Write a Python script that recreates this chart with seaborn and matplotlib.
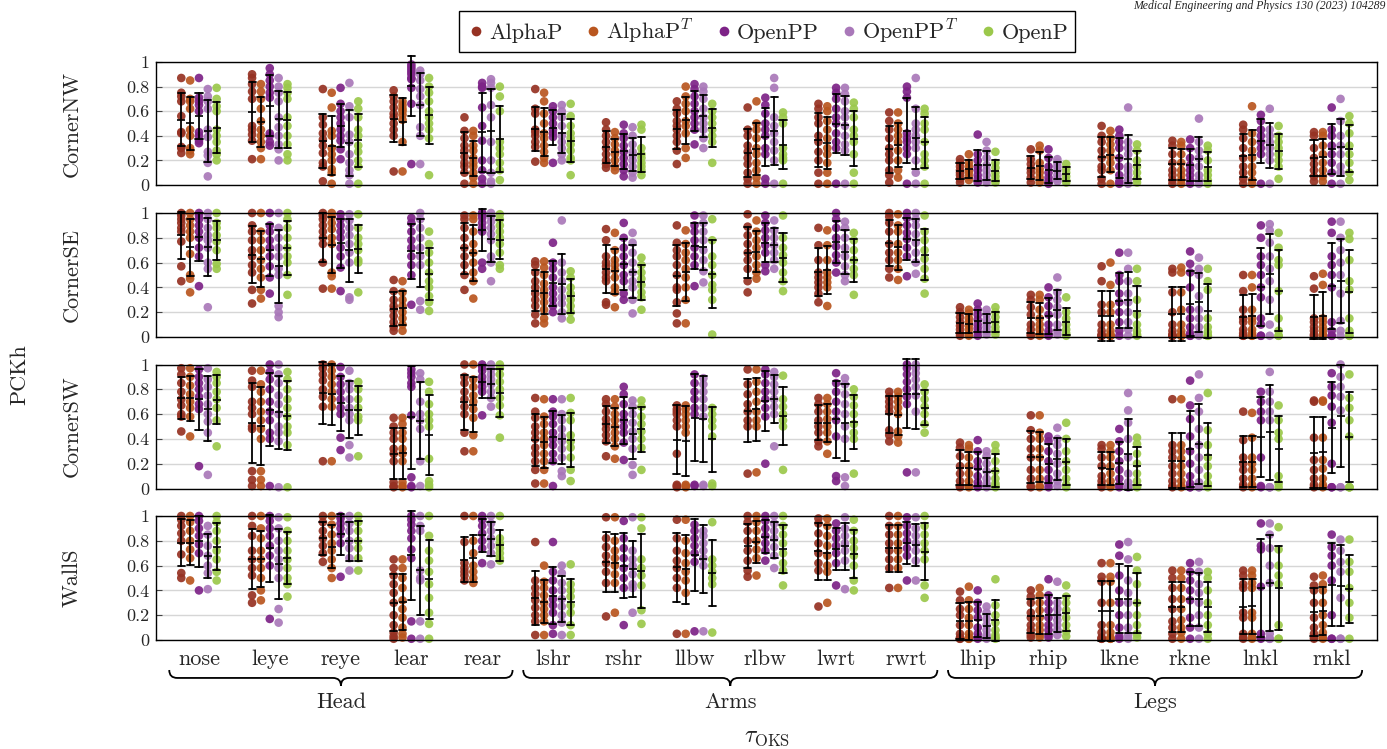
import matplotlib
matplotlib.use("Agg")
import numpy as np
import pandas as pd
import matplotlib.pyplot as plt
import matplotlib.transforms as mtransforms
from matplotlib.lines import Line2D
from matplotlib.path import Path
from matplotlib.patches import PathPatch
import seaborn as sns

# ---------------------------------------------------------------- categories
KEYPOINTS = ["nose", "leye", "reye", "lear", "rear", "lshr", "rshr", "llbw",
             "rlbw", "lwrt", "rwrt", "lhip", "rhip", "lkne", "rkne", "lnkl", "rnkl"]
GROUPS = [("Head", 0, 4), ("Arms", 5, 10), ("Legs", 11, 16)]
METHODS = ["AlphaP", "AlphaP$^T$", "OpenPP", "OpenPP$^T$", "OpenP"]
COLORS = ["#963223", "#b9561f", "#7d2387", "#a978b9", "#9bc84b"]
SCENES = ["CornerNW", "CornerSE", "CornerSW", "WallS"]
Y_TICKS = [0, 0.2, 0.4, 0.6, 0.8, 1]
Y_TICK_LABELS = ["0", "0.2", "0.4", "0.6", "0.8", "1"]

# ---------------------------------------------------------------- PCKh per sequence, one list per keypoint
NW_ALPHAP = [
    [0.87, 0.75, 0.72, 0.68, 0.56, 0.43, 0.42, 0.31, 0.30, 0.26],
    [0.90, 0.87, 0.82, 0.76, 0.70, 0.48, 0.45, 0.41, 0.36, 0.21],
    [0.78, 0.55, 0.49, 0.42, 0.37, 0.32, 0.26, 0.18, 0.15, 0.03],
    [0.77, 0.72, 0.68, 0.63, 0.58, 0.55, 0.50, 0.45, 0.40, 0.11],
    [0.55, 0.44, 0.38, 0.32, 0.28, 0.23, 0.18, 0.15, 0.10, 0.01],
    [0.78, 0.62, 0.58, 0.45, 0.43, 0.40, 0.35, 0.31, 0.19],
    [0.51, 0.45, 0.40, 0.35, 0.30, 0.25, 0.20, 0.17, 0.14],
    [0.68, 0.62, 0.58, 0.52, 0.48, 0.45, 0.40, 0.35, 0.28, 0.17],
    [0.63, 0.45, 0.40, 0.32, 0.27, 0.22, 0.17, 0.10, 0.05, 0.01],
    [0.66, 0.62, 0.55, 0.50, 0.40, 0.35, 0.27, 0.20, 0.10, 0.01],
    [0.59, 0.52, 0.45, 0.38, 0.30, 0.25, 0.20, 0.12, 0.08, 0.02],
    [0.21, 0.18, 0.15, 0.12, 0.10, 0.08, 0.05, 0.02],
    [0.29, 0.21, 0.17, 0.13, 0.10, 0.06, 0.02],
    [0.48, 0.40, 0.35, 0.28, 0.22, 0.15, 0.12, 0.05, 0.01],
    [0.36, 0.32, 0.25, 0.18, 0.12, 0.08, 0.04, 0.01],
    [0.49, 0.45, 0.38, 0.30, 0.22, 0.15, 0.10, 0.05, 0.01],
    [0.43, 0.40, 0.30, 0.22, 0.17, 0.12, 0.07, 0.03],
]
NW_ALPHAPT = [
    [0.85, 0.70, 0.68, 0.62, 0.45, 0.40, 0.30, 0.28, 0.25],
    [0.82, 0.76, 0.70, 0.62, 0.52, 0.45, 0.40, 0.35, 0.30, 0.21],
    [0.75, 0.63, 0.44, 0.40, 0.30, 0.25, 0.20, 0.13, 0.10, 0.01],
    [0.68, 0.65, 0.62, 0.60, 0.57, 0.53, 0.35, 0.11],
    [0.44, 0.40, 0.32, 0.28, 0.22, 0.18, 0.15, 0.10, 0.06, 0.01],
    [0.75, 0.68, 0.58, 0.50, 0.42, 0.38, 0.32, 0.27, 0.22, 0.18],
    [0.43, 0.38, 0.33, 0.28, 0.25, 0.20, 0.15, 0.12],
    [0.80, 0.72, 0.66, 0.60, 0.52, 0.48, 0.42, 0.30, 0.22],
    [0.68, 0.50, 0.45, 0.38, 0.30, 0.25, 0.18, 0.12, 0.06, 0.01],
    [0.64, 0.60, 0.52, 0.45, 0.38, 0.30, 0.25, 0.18, 0.10, 0.01],
    [0.59, 0.50, 0.45, 0.40, 0.35, 0.28, 0.20, 0.12, 0.06],
    [0.25, 0.18, 0.15, 0.12, 0.10, 0.07, 0.04],
    [0.32, 0.28, 0.18, 0.13, 0.10, 0.06, 0.02],
    [0.44, 0.38, 0.33, 0.28, 0.23, 0.18, 0.12, 0.01],
    [0.35, 0.32, 0.25, 0.18, 0.12, 0.08, 0.04, 0.01],
    [0.64, 0.42, 0.35, 0.28, 0.22, 0.15, 0.10, 0.04, 0.01],
    [0.43, 0.40, 0.32, 0.25, 0.18, 0.12, 0.07, 0.03],
]
NW_OPENPP = [
    [0.87, 0.71, 0.68, 0.65, 0.60, 0.43, 0.40, 0.36, 0.34],
    [0.95, 0.90, 0.85, 0.80, 0.75, 0.71, 0.42, 0.40, 0.35, 0.32],
    [0.79, 0.66, 0.60, 0.55, 0.50, 0.45, 0.40, 0.36, 0.29, 0.21],
    [0.98, 0.96, 0.94, 0.92, 0.90, 0.87, 0.86, 0.79, 0.66, 0.17],
    [0.83, 0.80, 0.79, 0.63, 0.48, 0.36, 0.20, 0.12, 0.05, 0.01],
    [0.64, 0.60, 0.55, 0.50, 0.45, 0.42, 0.39, 0.18],
    [0.49, 0.42, 0.38, 0.32, 0.27, 0.22, 0.17, 0.12, 0.07],
    [0.82, 0.78, 0.72, 0.66, 0.60, 0.55, 0.50, 0.45, 0.33],
    [0.71, 0.65, 0.58, 0.50, 0.45, 0.40, 0.30, 0.25, 0.05, 0.01],
    [0.79, 0.75, 0.70, 0.62, 0.55, 0.50, 0.42, 0.35, 0.30, 0.01],
    [0.80, 0.76, 0.71, 0.42, 0.38, 0.35, 0.30, 0.25, 0.01],
    [0.41, 0.25, 0.20, 0.15, 0.12, 0.08, 0.05, 0.02],
    [0.29, 0.22, 0.15, 0.10, 0.06, 0.03, 0.01],
    [0.45, 0.40, 0.35, 0.30, 0.22, 0.15, 0.08, 0.03, 0.01],
    [0.37, 0.30, 0.22, 0.16, 0.12, 0.08, 0.04, 0.01],
    [0.57, 0.52, 0.45, 0.40, 0.35, 0.30, 0.25, 0.01],
    [0.63, 0.45, 0.40, 0.32, 0.25, 0.18, 0.10, 0.01],
]
NW_OPENPPT = [
    [0.78, 0.72, 0.68, 0.62, 0.45, 0.39, 0.27, 0.24, 0.18, 0.07],
    [0.87, 0.80, 0.75, 0.68, 0.55, 0.47, 0.40, 0.33, 0.29, 0.20],
    [0.83, 0.64, 0.55, 0.41, 0.35, 0.25, 0.18, 0.12, 0.08, 0.01],
    [0.93, 0.90, 0.85, 0.78, 0.72, 0.65, 0.47, 0.40, 0.17],
    [0.86, 0.83, 0.79, 0.65, 0.55, 0.35, 0.20, 0.10, 0.03, 0.01],
    [0.65, 0.60, 0.55, 0.48, 0.40, 0.35, 0.30, 0.25, 0.20],
    [0.47, 0.40, 0.33, 0.27, 0.24, 0.20, 0.15, 0.10, 0.06],
    [0.80, 0.76, 0.70, 0.62, 0.55, 0.50, 0.45, 0.38, 0.30],
    [0.87, 0.79, 0.55, 0.48, 0.42, 0.35, 0.28, 0.20, 0.01],
    [0.79, 0.74, 0.68, 0.60, 0.55, 0.48, 0.40, 0.33, 0.28, 0.01],
    [0.87, 0.62, 0.50, 0.45, 0.40, 0.35, 0.30, 0.20, 0.10, 0.01],
    [0.35, 0.28, 0.22, 0.16, 0.12, 0.08, 0.04, 0.02],
    [0.21, 0.18, 0.15, 0.12, 0.08, 0.05, 0.03],
    [0.63, 0.35, 0.30, 0.25, 0.15, 0.12, 0.08, 0.04, 0.01],
    [0.54, 0.35, 0.28, 0.22, 0.15, 0.08, 0.04, 0.01],
    [0.62, 0.45, 0.40, 0.35, 0.30, 0.25, 0.20, 0.01],
    [0.70, 0.52, 0.40, 0.32, 0.25, 0.15, 0.10, 0.01],
]
NW_OPENP = [
    [0.79, 0.70, 0.64, 0.60, 0.45, 0.40, 0.35, 0.28, 0.25, 0.20],
    [0.82, 0.79, 0.75, 0.70, 0.55, 0.48, 0.40, 0.33, 0.25, 0.20],
    [0.68, 0.62, 0.55, 0.45, 0.40, 0.32, 0.27, 0.20, 0.15, 0.01],
    [0.87, 0.80, 0.75, 0.68, 0.60, 0.55, 0.50, 0.45, 0.38, 0.08],
    [0.80, 0.72, 0.60, 0.35, 0.30, 0.25, 0.18, 0.12, 0.04],
    [0.66, 0.56, 0.48, 0.42, 0.38, 0.33, 0.28, 0.22, 0.20, 0.08],
    [0.49, 0.45, 0.30, 0.25, 0.22, 0.18, 0.15, 0.12, 0.08],
    [0.66, 0.60, 0.55, 0.50, 0.45, 0.40, 0.35, 0.18],
    [0.59, 0.55, 0.50, 0.30, 0.25, 0.22, 0.20, 0.01],
    [0.67, 0.62, 0.55, 0.45, 0.40, 0.35, 0.25, 0.10, 0.01],
    [0.62, 0.58, 0.50, 0.45, 0.35, 0.25, 0.20, 0.15, 0.01],
    [0.27, 0.18, 0.14, 0.10, 0.07, 0.04, 0.02],
    [0.17, 0.13, 0.10, 0.07, 0.04, 0.02],
    [0.33, 0.28, 0.20, 0.15, 0.10, 0.05, 0.02],
    [0.32, 0.28, 0.20, 0.12, 0.08, 0.04, 0.01],
    [0.48, 0.40, 0.35, 0.30, 0.25, 0.20, 0.15, 0.05],
    [0.56, 0.50, 0.42, 0.32, 0.25, 0.18, 0.10, 0.04],
]

SE_ALPHAP = [
    [1.00, 0.98, 0.95, 0.92, 0.88, 0.85, 0.77, 0.57, 0.45],
    [1.00, 0.90, 0.85, 0.78, 0.70, 0.65, 0.58, 0.52, 0.38, 0.27],
    [1.00, 0.98, 0.95, 0.90, 0.85, 0.80, 0.75, 0.60, 0.39],
    [0.46, 0.37, 0.30, 0.25, 0.22, 0.17, 0.12, 0.08, 0.05],
    [0.98, 0.95, 0.88, 0.80, 0.72, 0.65, 0.58, 0.50, 0.38],
    [0.61, 0.58, 0.52, 0.45, 0.40, 0.35, 0.30, 0.25, 0.18, 0.11],
    [0.87, 0.78, 0.65, 0.60, 0.57, 0.52, 0.48, 0.45, 0.28, 0.26],
    [0.90, 0.76, 0.70, 0.65, 0.58, 0.50, 0.40, 0.38, 0.28, 0.19, 0.11],
    [0.99, 0.89, 0.82, 0.75, 0.68, 0.62, 0.55, 0.45, 0.36],
    [0.88, 0.74, 0.62, 0.52, 0.48, 0.44, 0.40, 0.35, 0.28],
    [1.00, 0.97, 0.92, 0.85, 0.75, 0.68, 0.62, 0.55, 0.48],
    [0.24, 0.20, 0.16, 0.12, 0.09, 0.06, 0.03, 0.01],
    [0.34, 0.30, 0.24, 0.18, 0.10, 0.06, 0.02, 0.01],
    [0.57, 0.45, 0.26, 0.20, 0.10, 0.05, 0.02, 0.01, 0.01, 0.01],
    [0.55, 0.52, 0.36, 0.20, 0.10, 0.05, 0.02, 0.01, 0.01, 0.01],
    [0.50, 0.37, 0.22, 0.15, 0.12, 0.06, 0.03, 0.01, 0.01],
    [0.49, 0.39, 0.15, 0.12, 0.08, 0.05, 0.02, 0.01],
]
SE_ALPHAPT = [
    [1.00, 0.95, 0.90, 0.85, 0.80, 0.67, 0.50, 0.47, 0.36],
    [1.00, 0.85, 0.78, 0.70, 0.62, 0.55, 0.48, 0.38, 0.31],
    [1.00, 0.97, 0.92, 0.87, 0.80, 0.75, 0.52, 0.49, 0.39],
    [0.45, 0.36, 0.30, 0.25, 0.20, 0.15, 0.10, 0.05],
    [0.98, 0.95, 0.85, 0.75, 0.68, 0.60, 0.52, 0.45, 0.31],
    [0.61, 0.56, 0.50, 0.43, 0.38, 0.33, 0.28, 0.22, 0.15, 0.11],
    [0.84, 0.70, 0.62, 0.58, 0.54, 0.48, 0.40, 0.36, 0.24],
    [0.86, 0.75, 0.68, 0.62, 0.55, 0.48, 0.40, 0.30, 0.11],
    [0.94, 0.85, 0.78, 0.72, 0.65, 0.58, 0.52, 0.47],
    [0.86, 0.74, 0.62, 0.52, 0.48, 0.44, 0.40, 0.25],
    [0.99, 0.90, 0.85, 0.75, 0.68, 0.62, 0.55, 0.46],
    [0.22, 0.19, 0.15, 0.12, 0.09, 0.06, 0.02, 0.01],
    [0.34, 0.30, 0.22, 0.15, 0.10, 0.06, 0.02, 0.01],
    [0.60, 0.42, 0.26, 0.20, 0.10, 0.05, 0.02, 0.01, 0.01, 0.01],
    [0.56, 0.52, 0.36, 0.22, 0.10, 0.05, 0.02, 0.01, 0.01, 0.01],
    [0.50, 0.40, 0.22, 0.15, 0.12, 0.06, 0.03, 0.01, 0.01],
    [0.51, 0.42, 0.15, 0.12, 0.08, 0.05, 0.02, 0.01],
]
SE_OPENPP = [
    [1.00, 0.98, 0.95, 0.90, 0.85, 0.80, 0.72, 0.65, 0.41],
    [1.00, 0.90, 0.85, 0.78, 0.72, 0.65, 0.57, 0.48, 0.35],
    [0.99, 0.95, 0.90, 0.85, 0.80, 0.72, 0.65, 0.56, 0.37],
    [0.96, 0.92, 0.85, 0.78, 0.72, 0.65, 0.58, 0.50, 0.26],
    [1.00, 1.00, 0.98, 0.96, 0.92, 0.88, 0.85, 0.60, 0.55],
    [0.76, 0.60, 0.55, 0.48, 0.40, 0.35, 0.30, 0.25, 0.20],
    [0.92, 0.80, 0.72, 0.65, 0.58, 0.50, 0.45, 0.35, 0.30],
    [0.98, 0.90, 0.85, 0.78, 0.72, 0.65, 0.58, 0.41],
    [0.98, 0.92, 0.86, 0.80, 0.74, 0.68, 0.58, 0.53],
    [1.00, 0.95, 0.88, 0.80, 0.73, 0.66, 0.60, 0.52],
    [1.00, 0.96, 0.90, 0.84, 0.79, 0.72, 0.65, 0.49],
    [0.27, 0.22, 0.18, 0.14, 0.10, 0.07, 0.04, 0.01],
    [0.40, 0.32, 0.25, 0.18, 0.10, 0.05, 0.02, 0.01],
    [0.68, 0.50, 0.45, 0.35, 0.28, 0.20, 0.12, 0.05, 0.01],
    [0.69, 0.59, 0.52, 0.40, 0.22, 0.15, 0.08, 0.03, 0.01, 0.01],
    [0.90, 0.80, 0.65, 0.58, 0.50, 0.40, 0.32, 0.15, 0.10, 0.01, 0.01],
    [0.93, 0.84, 0.65, 0.58, 0.50, 0.40, 0.12, 0.05, 0.01, 0.01],
]
SE_OPENPPT = [
    [1.00, 0.95, 0.88, 0.82, 0.78, 0.72, 0.60, 0.55, 0.24],
    [1.00, 0.88, 0.80, 0.72, 0.65, 0.55, 0.50, 0.25, 0.20, 0.16],
    [0.99, 0.94, 0.88, 0.82, 0.75, 0.68, 0.60, 0.32, 0.30],
    [1.00, 0.95, 0.88, 0.80, 0.72, 0.65, 0.58, 0.29, 0.22],
    [1.00, 0.97, 0.93, 0.88, 0.83, 0.78, 0.65, 0.60, 0.45],
    [0.94, 0.60, 0.52, 0.45, 0.38, 0.32, 0.27, 0.20, 0.15],
    [0.84, 0.76, 0.68, 0.60, 0.52, 0.45, 0.40, 0.30, 0.19],
    [0.98, 0.92, 0.85, 0.78, 0.70, 0.62, 0.53, 0.44],
    [0.94, 0.86, 0.80, 0.74, 0.68, 0.62, 0.55],
    [0.93, 0.88, 0.80, 0.72, 0.65, 0.57, 0.50, 0.45],
    [1.00, 0.95, 0.90, 0.83, 0.76, 0.68, 0.60, 0.51],
    [0.22, 0.18, 0.14, 0.11, 0.08, 0.05, 0.02],
    [0.48, 0.36, 0.30, 0.24, 0.18, 0.10, 0.05, 0.02],
    [0.68, 0.55, 0.45, 0.35, 0.28, 0.20, 0.12, 0.06, 0.01],
    [0.64, 0.55, 0.50, 0.33, 0.22, 0.15, 0.08, 0.03, 0.01],
    [0.91, 0.86, 0.76, 0.65, 0.55, 0.45, 0.30, 0.10, 0.01],
    [0.93, 0.80, 0.70, 0.60, 0.50, 0.35, 0.13, 0.05, 0.01],
]
SE_OPENP = [
    [1.00, 0.92, 0.88, 0.82, 0.77, 0.70, 0.59, 0.55],
    [1.00, 0.95, 0.88, 0.80, 0.72, 0.65, 0.60, 0.50, 0.34],
    [0.99, 0.88, 0.80, 0.75, 0.70, 0.62, 0.60, 0.36],
    [0.85, 0.75, 0.68, 0.60, 0.52, 0.45, 0.40, 0.33, 0.28, 0.21],
    [0.99, 0.95, 0.90, 0.85, 0.80, 0.75, 0.68, 0.58, 0.55],
    [0.53, 0.48, 0.40, 0.35, 0.30, 0.25, 0.20, 0.14],
    [0.64, 0.58, 0.52, 0.47, 0.42, 0.36, 0.32, 0.22],
    [0.95, 0.78, 0.65, 0.58, 0.50, 0.42, 0.38, 0.30, 0.02],
    [0.98, 0.80, 0.72, 0.66, 0.60, 0.52, 0.45, 0.37],
    [0.84, 0.78, 0.70, 0.62, 0.55, 0.50, 0.34],
    [0.98, 0.85, 0.78, 0.70, 0.63, 0.55, 0.47, 0.35],
    [0.24, 0.20, 0.16, 0.12, 0.08, 0.05, 0.02],
    [0.32, 0.20, 0.15, 0.10, 0.06, 0.03, 0.01],
    [0.55, 0.45, 0.30, 0.18, 0.10, 0.05, 0.02, 0.01],
    [0.55, 0.45, 0.38, 0.15, 0.08, 0.04, 0.01, 0.01],
    [0.84, 0.72, 0.62, 0.58, 0.37, 0.15, 0.05, 0.01, 0.01],
    [0.84, 0.79, 0.62, 0.45, 0.38, 0.15, 0.05, 0.01, 0.01],
]

SW_ALPHAP = [
    [0.97, 0.92, 0.85, 0.78, 0.72, 0.67, 0.60, 0.58, 0.46],
    [0.95, 0.87, 0.82, 0.70, 0.65, 0.60, 0.50, 0.48, 0.14, 0.07, 0.02],
    [1.00, 0.97, 0.92, 0.87, 0.80, 0.74, 0.66, 0.22],
    [0.57, 0.50, 0.45, 0.40, 0.32, 0.28, 0.22, 0.05, 0.02, 0.01],
    [1.00, 0.90, 0.85, 0.78, 0.72, 0.66, 0.60, 0.45, 0.30],
    [0.73, 0.62, 0.57, 0.50, 0.45, 0.40, 0.33, 0.28, 0.22, 0.15, 0.04],
    [0.72, 0.68, 0.62, 0.56, 0.52, 0.48, 0.43, 0.38, 0.26],
    [0.67, 0.64, 0.62, 0.60, 0.55, 0.50, 0.28, 0.03, 0.02, 0.01],
    [0.96, 0.84, 0.76, 0.68, 0.62, 0.55, 0.50, 0.12],
    [0.73, 0.68, 0.62, 0.55, 0.50, 0.45, 0.38, 0.34],
    [0.78, 0.74, 0.70, 0.66, 0.62, 0.47, 0.43, 0.38],
    [0.37, 0.33, 0.26, 0.18, 0.12, 0.06, 0.02, 0.01],
    [0.59, 0.47, 0.40, 0.32, 0.25, 0.15, 0.08, 0.02, 0.01],
    [0.35, 0.32, 0.25, 0.18, 0.10, 0.06, 0.03, 0.01],
    [0.72, 0.35, 0.30, 0.25, 0.18, 0.12, 0.06, 0.02, 0.01],
    [0.62, 0.39, 0.25, 0.20, 0.15, 0.08, 0.03, 0.01],
    [0.71, 0.70, 0.41, 0.23, 0.15, 0.08, 0.03, 0.01],
]
SW_ALPHAPT = [
    [0.97, 0.90, 0.83, 0.76, 0.70, 0.65, 0.58, 0.42],
    [0.95, 0.84, 0.78, 0.70, 0.62, 0.55, 0.48, 0.40, 0.14, 0.07, 0.02],
    [1.00, 0.95, 0.90, 0.84, 0.78, 0.72, 0.66, 0.22],
    [0.57, 0.52, 0.45, 0.40, 0.32, 0.28, 0.22, 0.05, 0.02, 0.01],
    [1.00, 0.88, 0.82, 0.75, 0.70, 0.64, 0.57, 0.43, 0.30],
    [0.72, 0.58, 0.52, 0.45, 0.40, 0.35, 0.28, 0.22, 0.15, 0.04],
    [0.72, 0.66, 0.60, 0.55, 0.50, 0.45, 0.40, 0.34, 0.24],
    [0.67, 0.64, 0.60, 0.55, 0.50, 0.45, 0.03, 0.02, 0.01],
    [0.96, 0.86, 0.78, 0.70, 0.62, 0.55, 0.50, 0.13],
    [0.73, 0.68, 0.62, 0.56, 0.50, 0.45, 0.38, 0.28],
    [0.78, 0.74, 0.70, 0.65, 0.60, 0.46, 0.42, 0.37],
    [0.35, 0.32, 0.25, 0.18, 0.12, 0.06, 0.02, 0.01],
    [0.59, 0.45, 0.40, 0.32, 0.25, 0.15, 0.08, 0.02, 0.01],
    [0.35, 0.30, 0.25, 0.18, 0.12, 0.06, 0.02, 0.01],
    [0.72, 0.35, 0.30, 0.24, 0.18, 0.12, 0.06, 0.02, 0.01],
    [0.61, 0.41, 0.25, 0.20, 0.15, 0.08, 0.03, 0.01],
    [0.71, 0.70, 0.41, 0.23, 0.16, 0.08, 0.03, 0.01],
]
SW_OPENPP = [
    [0.96, 0.90, 0.85, 0.80, 0.74, 0.68, 0.64, 0.18],
    [1.00, 0.94, 0.88, 0.80, 0.70, 0.62, 0.55, 0.45, 0.40, 0.02],
    [0.98, 0.90, 0.84, 0.78, 0.72, 0.65, 0.60, 0.41, 0.31],
    [0.96, 0.93, 0.90, 0.85, 0.82, 0.59, 0.09, 0.02, 0.01],
    [1.00, 0.98, 0.95, 0.90, 0.86, 0.82, 0.78, 0.59],
    [0.72, 0.62, 0.58, 0.52, 0.45, 0.40, 0.35, 0.28, 0.22, 0.02],
    [0.82, 0.76, 0.68, 0.60, 0.55, 0.50, 0.45, 0.37, 0.23],
    [0.92, 0.85, 0.78, 0.72, 0.65, 0.60, 0.03, 0.02],
    [0.96, 0.92, 0.85, 0.78, 0.72, 0.65, 0.58, 0.20],
    [0.93, 0.85, 0.78, 0.70, 0.62, 0.55, 0.42, 0.10, 0.06],
    [1.00, 0.97, 0.92, 0.86, 0.80, 0.74, 0.68, 0.13],
    [0.39, 0.30, 0.22, 0.17, 0.10, 0.05, 0.02, 0.01],
    [0.42, 0.38, 0.30, 0.22, 0.15, 0.08, 0.04, 0.01],
    [0.48, 0.38, 0.30, 0.22, 0.15, 0.08, 0.03, 0.01],
    [0.87, 0.67, 0.56, 0.42, 0.30, 0.20, 0.10, 0.04, 0.01, 0.01],
    [0.78, 0.70, 0.62, 0.55, 0.25, 0.02, 0.01],
    [0.93, 0.82, 0.75, 0.66, 0.53, 0.20, 0.01, 0.01],
]
SW_OPENPPT = [
    [0.97, 0.88, 0.82, 0.75, 0.68, 0.60, 0.54, 0.45, 0.11],
    [1.00, 0.92, 0.85, 0.75, 0.68, 0.60, 0.50, 0.45, 0.38, 0.01],
    [0.95, 0.85, 0.80, 0.72, 0.65, 0.60, 0.55, 0.35, 0.25],
    [0.93, 0.88, 0.70, 0.60, 0.55, 0.48, 0.22, 0.02],
    [1.00, 0.96, 0.92, 0.88, 0.84, 0.78, 0.73, 0.66],
    [0.72, 0.60, 0.55, 0.48, 0.42, 0.38, 0.32, 0.25, 0.14, 0.10],
    [0.71, 0.66, 0.60, 0.53, 0.46, 0.40, 0.32, 0.19, 0.11],
    [0.89, 0.84, 0.78, 0.72, 0.65, 0.58, 0.03, 0.02],
    [0.94, 0.90, 0.84, 0.78, 0.72, 0.66, 0.60, 0.34],
    [0.89, 0.84, 0.76, 0.68, 0.60, 0.50, 0.40, 0.09, 0.02],
    [1.00, 0.97, 0.93, 0.88, 0.82, 0.75, 0.62, 0.13],
    [0.30, 0.26, 0.20, 0.14, 0.08, 0.04, 0.02, 0.01],
    [0.49, 0.40, 0.35, 0.28, 0.20, 0.12, 0.06, 0.02],
    [0.77, 0.63, 0.53, 0.40, 0.25, 0.12, 0.05, 0.01, 0.01, 0.01],
    [0.92, 0.73, 0.62, 0.48, 0.35, 0.25, 0.15, 0.05, 0.01, 0.01],
    [0.94, 0.78, 0.70, 0.62, 0.55, 0.01, 0.01, 0.01],
    [1.00, 0.90, 0.82, 0.74, 0.63, 0.01, 0.01],
]
SW_OPENP = [
    [0.94, 0.90, 0.85, 0.78, 0.72, 0.65, 0.55, 0.34],
    [0.94, 0.88, 0.80, 0.72, 0.65, 0.58, 0.50, 0.45, 0.35, 0.01],
    [0.86, 0.80, 0.72, 0.65, 0.58, 0.55, 0.26],
    [0.86, 0.78, 0.68, 0.60, 0.55, 0.50, 0.24, 0.06, 0.03, 0.01],
    [1.00, 0.97, 0.92, 0.86, 0.80, 0.73, 0.67, 0.59, 0.41],
    [0.73, 0.61, 0.55, 0.43, 0.38, 0.33, 0.25, 0.15, 0.06],
    [0.71, 0.66, 0.58, 0.52, 0.46, 0.40, 0.33, 0.15],
    [0.65, 0.60, 0.55, 0.50, 0.42, 0.04, 0.02],
    [0.91, 0.72, 0.66, 0.60, 0.55, 0.50, 0.15],
    [0.80, 0.74, 0.67, 0.60, 0.52, 0.45, 0.40, 0.12],
    [0.84, 0.78, 0.72, 0.66, 0.60, 0.52, 0.45],
    [0.35, 0.30, 0.22, 0.14, 0.08, 0.04, 0.02, 0.01],
    [0.53, 0.40, 0.30, 0.22, 0.15, 0.08, 0.03, 0.01],
    [0.41, 0.36, 0.28, 0.20, 0.12, 0.06, 0.02, 0.01],
    [0.77, 0.47, 0.35, 0.25, 0.18, 0.10, 0.04, 0.01],
    [0.67, 0.55, 0.45, 0.40, 0.10, 0.04, 0.01],
    [0.92, 0.73, 0.65, 0.55, 0.42, 0.01, 0.01, 0.01],
]

WS_ALPHAP = [
    [1.00, 0.97, 0.92, 0.86, 0.80, 0.69, 0.54, 0.50],
    [1.00, 0.92, 0.84, 0.72, 0.65, 0.58, 0.52, 0.36, 0.30],
    [1.00, 0.95, 0.88, 0.82, 0.76, 0.70, 0.63],
    [0.65, 0.58, 0.52, 0.45, 0.38, 0.30, 0.20, 0.12, 0.06, 0.03, 0.01],
    [1.00, 0.79, 0.62, 0.58, 0.55, 0.52, 0.48],
    [0.79, 0.48, 0.42, 0.37, 0.32, 0.26, 0.20, 0.15, 0.04],
    [0.99, 0.82, 0.75, 0.68, 0.62, 0.55, 0.46, 0.19],
    [0.97, 0.82, 0.72, 0.64, 0.58, 0.50, 0.42, 0.05],
    [1.00, 0.95, 0.88, 0.80, 0.72, 0.64, 0.56, 0.51],
    [0.98, 0.94, 0.86, 0.78, 0.70, 0.62, 0.56, 0.27],
    [1.00, 0.92, 0.85, 0.78, 0.72, 0.65, 0.58, 0.42],
    [0.39, 0.32, 0.25, 0.20, 0.12, 0.05, 0.02, 0.01, 0.01],
    [0.40, 0.35, 0.30, 0.22, 0.18, 0.12, 0.08, 0.04, 0.02],
    [0.62, 0.51, 0.47, 0.30, 0.12, 0.06, 0.02, 0.01, 0.01],
    [0.56, 0.50, 0.42, 0.33, 0.25, 0.15, 0.10, 0.05, 0.01],
    [0.56, 0.52, 0.45, 0.42, 0.22, 0.18, 0.05, 0.02, 0.01],
    [0.51, 0.44, 0.40, 0.30, 0.18, 0.10, 0.05, 0.02, 0.01],
]
WS_ALPHAPT = [
    [1.00, 0.95, 0.88, 0.80, 0.73, 0.66, 0.48],
    [1.00, 0.90, 0.82, 0.72, 0.65, 0.58, 0.50, 0.40, 0.32],
    [1.00, 0.93, 0.85, 0.78, 0.72, 0.65, 0.58, 0.50],
    [0.65, 0.58, 0.50, 0.42, 0.32, 0.25, 0.18, 0.10, 0.05, 0.02],
    [1.00, 0.80, 0.70, 0.60, 0.55, 0.50, 0.46],
    [0.60, 0.47, 0.42, 0.36, 0.30, 0.25, 0.20, 0.15, 0.04],
    [0.99, 0.80, 0.72, 0.66, 0.60, 0.53, 0.46, 0.22],
    [0.97, 0.80, 0.70, 0.62, 0.55, 0.48, 0.38, 0.05],
    [1.00, 0.95, 0.88, 0.80, 0.73, 0.66, 0.52],
    [0.98, 0.92, 0.84, 0.76, 0.68, 0.60, 0.55, 0.30],
    [1.00, 0.92, 0.85, 0.78, 0.72, 0.65, 0.58, 0.42],
    [0.43, 0.32, 0.25, 0.18, 0.12, 0.05, 0.02, 0.01, 0.01],
    [0.42, 0.36, 0.30, 0.24, 0.18, 0.12, 0.08, 0.04, 0.02],
    [0.62, 0.51, 0.47, 0.30, 0.12, 0.06, 0.02, 0.01, 0.01],
    [0.56, 0.50, 0.42, 0.33, 0.25, 0.16, 0.10, 0.06, 0.01],
    [0.56, 0.52, 0.46, 0.42, 0.22, 0.18, 0.05, 0.02, 0.01],
    [0.52, 0.45, 0.40, 0.30, 0.20, 0.12, 0.06, 0.02, 0.01],
]
WS_OPENPP = [
    [1.00, 0.96, 0.90, 0.84, 0.77, 0.70, 0.40],
    [1.00, 0.96, 0.90, 0.84, 0.76, 0.68, 0.60, 0.17],
    [1.00, 0.98, 0.94, 0.90, 0.85, 0.78, 0.51],
    [1.00, 0.97, 0.93, 0.88, 0.82, 0.73, 0.66, 0.15, 0.01],
    [1.00, 0.97, 0.92, 0.86, 0.80, 0.74, 0.62],
    [0.79, 0.55, 0.48, 0.40, 0.33, 0.28, 0.22, 0.12, 0.05],
    [0.96, 0.82, 0.74, 0.66, 0.58, 0.50, 0.42, 0.12],
    [0.93, 0.88, 0.82, 0.76, 0.70, 0.63, 0.07],
    [1.00, 0.96, 0.90, 0.84, 0.78, 0.72, 0.64],
    [0.94, 0.88, 0.82, 0.76, 0.70, 0.62, 0.44],
    [0.99, 0.92, 0.86, 0.80, 0.74, 0.68, 0.48],
    [0.40, 0.30, 0.24, 0.18, 0.10, 0.05, 0.02, 0.01],
    [0.49, 0.36, 0.30, 0.24, 0.18, 0.12, 0.08, 0.04, 0.02],
    [0.77, 0.68, 0.52, 0.40, 0.30, 0.20, 0.10, 0.03, 0.01],
    [0.62, 0.55, 0.48, 0.40, 0.32, 0.18, 0.10, 0.01],
    [0.94, 0.76, 0.73, 0.43, 0.05, 0.02, 0.01],
    [0.85, 0.75, 0.68, 0.60, 0.48, 0.20, 0.01, 0.01],
]
WS_OPENPPT = [
    [0.92, 0.85, 0.76, 0.68, 0.60, 0.54, 0.41],
    [0.99, 0.90, 0.80, 0.72, 0.65, 0.58, 0.50, 0.25, 0.14],
    [1.00, 0.94, 0.88, 0.80, 0.74, 0.66, 0.56],
    [1.00, 0.92, 0.88, 0.56, 0.50, 0.48, 0.15, 0.01],
    [1.00, 0.94, 0.88, 0.82, 0.76, 0.70, 0.61],
    [0.60, 0.54, 0.46, 0.40, 0.33, 0.27, 0.20, 0.14, 0.04],
    [0.99, 0.72, 0.65, 0.60, 0.53, 0.45, 0.42, 0.22],
    [0.88, 0.84, 0.78, 0.72, 0.66, 0.60, 0.07],
    [1.00, 0.94, 0.88, 0.82, 0.75, 0.68, 0.58],
    [0.99, 0.90, 0.84, 0.78, 0.72, 0.64, 0.41],
    [0.99, 0.90, 0.84, 0.78, 0.72, 0.64, 0.48],
    [0.27, 0.22, 0.17, 0.12, 0.08, 0.04, 0.02, 0.01],
    [0.47, 0.30, 0.25, 0.20, 0.16, 0.12, 0.08, 0.04],
    [0.79, 0.65, 0.48, 0.38, 0.30, 0.20, 0.10, 0.04, 0.01],
    [0.63, 0.55, 0.45, 0.38, 0.30, 0.20, 0.10, 0.01],
    [0.94, 0.85, 0.74, 0.60, 0.46, 0.05, 0.01, 0.01],
    [0.81, 0.72, 0.63, 0.55, 0.34, 0.01, 0.01],
]
WS_OPENP = [
    [1.00, 0.95, 0.88, 0.80, 0.72, 0.65, 0.55, 0.48],
    [0.99, 0.88, 0.80, 0.72, 0.65, 0.58, 0.50, 0.45, 0.35],
    [1.00, 0.95, 0.88, 0.80, 0.74, 0.66, 0.56],
    [1.00, 0.84, 0.72, 0.64, 0.55, 0.45, 0.34, 0.22, 0.13, 0.01],
    [1.00, 0.82, 0.78, 0.74, 0.70, 0.66, 0.64],
    [0.61, 0.45, 0.40, 0.35, 0.28, 0.22, 0.12, 0.04],
    [0.99, 0.90, 0.65, 0.58, 0.52, 0.44, 0.24, 0.13],
    [0.95, 0.65, 0.60, 0.55, 0.50, 0.45, 0.06],
    [1.00, 0.92, 0.85, 0.78, 0.70, 0.62, 0.56, 0.44],
    [0.97, 0.88, 0.80, 0.74, 0.68, 0.60, 0.48, 0.40],
    [1.00, 0.92, 0.85, 0.78, 0.72, 0.65, 0.44, 0.34],
    [0.49, 0.28, 0.20, 0.14, 0.08, 0.04, 0.02, 0.01],
    [0.44, 0.35, 0.30, 0.24, 0.18, 0.12, 0.07, 0.03],
    [0.67, 0.56, 0.45, 0.30, 0.20, 0.12, 0.05, 0.02],
    [0.55, 0.50, 0.40, 0.30, 0.20, 0.12, 0.05, 0.01],
    [0.91, 0.73, 0.60, 0.52, 0.45, 0.12, 0.01, 0.01],
    [0.81, 0.63, 0.55, 0.42, 0.30, 0.18, 0.01],
]

SCENE_DATA = {
    "CornerNW": [NW_ALPHAP, NW_ALPHAPT, NW_OPENPP, NW_OPENPPT, NW_OPENP],
    "CornerSE": [SE_ALPHAP, SE_ALPHAPT, SE_OPENPP, SE_OPENPPT, SE_OPENP],
    "CornerSW": [SW_ALPHAP, SW_ALPHAPT, SW_OPENPP, SW_OPENPPT, SW_OPENP],
    "WallS": [WS_ALPHAP, WS_ALPHAPT, WS_OPENPP, WS_OPENPPT, WS_OPENP],
}

# ---------------------------------------------------------------- long table
DODGE = 0.125  # horizontal spacing between methods inside a keypoint slot
rows = []
for scene in SCENES:
    for m, (method, per_kp) in enumerate(zip(METHODS, SCENE_DATA[scene])):
        for k, vals in enumerate(per_kp):
            for v in vals:
                rows.append((scene, method, k + (m - 2) * DODGE, v))
df = pd.DataFrame(rows, columns=["scene", "method", "pos", "pckh"])

# ---------------------------------------------------------------- style
sns.set_theme(style="white")
plt.rcParams.update({
    "font.family": ["cmr10", "DejaVu Serif"],
    "mathtext.fontset": "cm",
    "axes.formatter.use_mathtext": True,
    "axes.unicode_minus": False,
})

W_PX, H_PX = 1387, 749
fig = plt.figure(figsize=(W_PX / 100, H_PX / 100), dpi=100)

AX_LEFT, AX_RIGHT = 156, 1377
PANEL_PX = [(62, 185), (213, 337), (364.5, 488.5), (516, 640)]
XLIM = (-0.607, 16.64)

axes = []
for i, scene in enumerate(SCENES):
    top, bot = PANEL_PX[i]
    ax = fig.add_axes([AX_LEFT / W_PX, 1 - bot / H_PX,
                       (AX_RIGHT - AX_LEFT) / W_PX, (bot - top) / H_PX])
    axes.append(ax)
    sub = df[df["scene"] == scene]

    ax.set_axisbelow(True)
    ax.grid(axis="y", color="#d6d6d6", linewidth=1.0)
    ax.grid(axis="x", visible=False)

    sns.stripplot(data=sub, x="pos", y="pckh", hue="method", hue_order=METHODS,
                  palette=COLORS, native_scale=True, jitter=False, size=6.2,
                  linewidth=0, alpha=0.92, legend=False, ax=ax,
                  clip_on=False, zorder=2)
    sns.pointplot(data=sub, x="pos", y="pckh", native_scale=True, errorbar="sd",
                  color="black", linestyle="none", marker="_", markersize=6,
                  markeredgewidth=1.2, capsize=0.8,
                  err_kws={"linewidth": 1.3, "clip_on": False},
                  ax=ax, zorder=3, clip_on=False)

    ax.set_xlim(*XLIM)
    ax.set_ylim(0, 1)
    ax.set_yticks(Y_TICKS)
    ax.set_yticklabels(Y_TICK_LABELS)
    ax.set_xticks(range(len(KEYPOINTS)))
    ax.set_xticklabels(KEYPOINTS if i == len(SCENES) - 1 else [])
    ax.set_xlabel("")
    ax.set_ylabel("")
    ax.tick_params(axis="y", which="both", direction="in", left=True, right=True,
                   length=4, width=0.8, color="#444444", labelsize=13, pad=5)
    ax.tick_params(axis="x", length=0, labelsize=16, pad=7)
    for sp in ax.spines.values():
        sp.set_color("black")
        sp.set_linewidth(1.0)

    fig.text(72 / W_PX, 1 - (top + bot) / 2 / H_PX, scene, rotation=90,
             ha="center", va="center", fontsize=16)

fig.text(20 / W_PX, 1 - 375 / H_PX, "PCKh", rotation=90, ha="center",
         va="center", fontsize=16)
fig.text(767 / W_PX, 1 - 737 / H_PX, r"$\tau_{\mathrm{OKS}}$", ha="center",
         va="center", fontsize=17)

# ---------------------------------------------------------------- body-part braces
ax_b = axes[-1]
trans = mtransforms.blended_transform_factory(ax_b.transData, ax_b.transAxes)
Y_TOP, R_Y = -0.242, 0.064
R_X = 0.113


def curly_brace(ax, x0, x1):
    xm = (x0 + x1) / 2
    ymid = Y_TOP - R_Y
    ytip = ymid - R_Y
    verts = [(x0, Y_TOP), (x0, ymid), (x0 + R_X, ymid),
             (xm - R_X, ymid), (xm, ymid), (xm, ytip),
             (xm, ymid), (xm + R_X, ymid),
             (x1 - R_X, ymid), (x1, ymid), (x1, Y_TOP)]
    codes = [Path.MOVETO, Path.CURVE3, Path.CURVE3,
             Path.LINETO, Path.CURVE3, Path.CURVE3,
             Path.CURVE3, Path.CURVE3,
             Path.LINETO, Path.CURVE3, Path.CURVE3]
    patch = PathPatch(Path(verts, codes), fill=False, edgecolor="black",
                      linewidth=1.3, transform=trans, clip_on=False)
    ax.add_patch(patch)
    return xm


for name, first, last in GROUPS:
    xm = curly_brace(ax_b, first - 0.42, last + 0.43)
    ax_b.text(xm, -0.50, name, transform=trans, ha="center", va="center",
              fontsize=16)

# ---------------------------------------------------------------- legend
handles = [Line2D([0], [0], marker="o", linestyle="none", markersize=7,
                  markerfacecolor=c, markeredgewidth=0) for c in COLORS]
fig.legend(handles, METHODS, loc="center", bbox_to_anchor=(767 / W_PX, 1 - 31.5 / H_PX),
           ncol=5, frameon=True, fancybox=False, edgecolor="black", framealpha=1,
           fontsize=16, handletextpad=0.15, columnspacing=0.9, borderpad=0.3,
           handlelength=0.9)

# running header of the journal page
fig.text(0.999, 1 - 9 / H_PX, "Medical Engineering and Physics 130 (2023) 104289",
         ha="right", va="baseline", fontsize=8.5, style="italic",
         family="Liberation Serif", color="#222222")

fig.savefig("out.png", dpi=100)
